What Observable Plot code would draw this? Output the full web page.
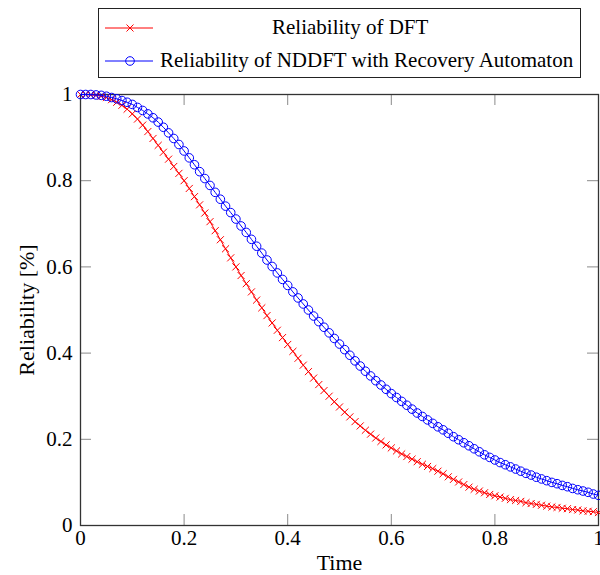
<!DOCTYPE html>
<html>
<head>
<meta charset="utf-8">
<script src="https://cdn.jsdelivr.net/npm/d3@7"></script>
<script src="https://cdn.jsdelivr.net/npm/@observablehq/plot@0.6"></script>
<style>
  html, body { margin: 0; padding: 0; background: white; }
  #wrap { position: relative; width: 600px; height: 575px; font-family: "Liberation Serif", "Times New Roman", serif; }
  #legend { position: absolute; left: 98px; top: 8px; width: 481px; height: 68px; border: 1px solid #222; background: white; }
  #legend .row { position: absolute; left: 0; height: 30px; width: 100%; }
  #legend svg { position: absolute; left: 6px; top: 0; }
  #legend .lbl { position: absolute; top: 2px; font-size: 21px; line-height: 24px; white-space: nowrap; color: black; font-family: "Liberation Serif", "Times New Roman", serif; }
</style>
</head>
<body>
<div id="wrap">
  <div id="chart"></div>
  <div id="legend"></div>
</div>
<script>
// ---- data ----
const seriesNames = ["Reliability of DFT", "Reliability of NDDFT with Recovery Automaton"];
const time = d3.range(0, 101).map(i => i / 100);
const dftValues = [
  1.000, 1.000, 0.999, 0.998, 0.996, 0.993, 0.988, 0.982, 0.975, 0.966,
  0.955, 0.943, 0.929, 0.914, 0.898, 0.882, 0.866, 0.850, 0.833, 0.817,
  0.800, 0.782, 0.763, 0.744, 0.725, 0.705, 0.684, 0.663, 0.642, 0.621,
  0.600, 0.580, 0.561, 0.542, 0.523, 0.505, 0.487, 0.470, 0.453, 0.436,
  0.420, 0.404, 0.388, 0.372, 0.357, 0.342, 0.327, 0.313, 0.300, 0.287,
  0.275, 0.263, 0.252, 0.241, 0.231, 0.221, 0.212, 0.203, 0.195, 0.187,
  0.180, 0.173, 0.166, 0.160, 0.154, 0.148, 0.142, 0.137, 0.132, 0.126,
  0.120, 0.113, 0.107, 0.101, 0.095, 0.089, 0.084, 0.080, 0.076, 0.072,
  0.069, 0.066, 0.063, 0.060, 0.058, 0.056, 0.053, 0.051, 0.049, 0.047,
  0.045, 0.043, 0.042, 0.040, 0.039, 0.037, 0.036, 0.034, 0.033, 0.032,
  0.030
];
const nddftValues = [
  1.000, 1.000, 1.000, 0.999, 0.998, 0.996, 0.993, 0.990, 0.986, 0.982,
  0.977, 0.970, 0.963, 0.955, 0.946, 0.936, 0.924, 0.911, 0.898, 0.884,
  0.869, 0.853, 0.837, 0.821, 0.805, 0.789, 0.773, 0.757, 0.741, 0.726,
  0.711, 0.695, 0.680, 0.664, 0.648, 0.632, 0.616, 0.601, 0.586, 0.571,
  0.557, 0.542, 0.528, 0.514, 0.500, 0.486, 0.473, 0.460, 0.447, 0.434,
  0.421, 0.408, 0.395, 0.382, 0.370, 0.358, 0.347, 0.336, 0.326, 0.316,
  0.306, 0.297, 0.288, 0.279, 0.270, 0.261, 0.253, 0.245, 0.237, 0.229,
  0.222, 0.214, 0.206, 0.199, 0.192, 0.185, 0.178, 0.171, 0.164, 0.158,
  0.152, 0.146, 0.141, 0.136, 0.131, 0.126, 0.121, 0.117, 0.112, 0.108,
  0.104, 0.100, 0.097, 0.093, 0.090, 0.086, 0.083, 0.080, 0.077, 0.073,
  0.070
];
const xTicks = [0, 0.2, 0.4, 0.6, 0.8, 1];
const yTicks = [0, 0.2, 0.4, 0.6, 0.8, 1];
const xLabel = "Time";
const yLabel = "Reliability [%]";

// ---- build ----
const dft = time.map((t, i) => ({t, v: dftValues[i]}));
const nddft = time.map((t, i) => ({t, v: nddftValues[i]}));

const W = 600, H = 575, mL = 80, mR = 2, mT = 94, mB = 50;
const plotW = W - mL - mR, plotH = H - mT - mB;
const tickLen = 11;
const tickColor = "#8a8a8a";
const serif = "'Liberation Serif', 'Times New Roman', serif";

const chart = Plot.plot({
  width: W, height: H,
  marginLeft: mL, marginRight: mR, marginTop: mT, marginBottom: mB,
  style: {fontFamily: serif, fontSize: "21px", color: "black", background: "white", overflow: "visible"},
  x: {domain: [0, 1]},
  y: {domain: [0, 1]},
  marks: [
    // inward ticks on all four sides
    Plot.ruleX(xTicks, {x: d => d, insetTop: plotH - tickLen, stroke: tickColor, strokeWidth: 1}),
    Plot.ruleX(xTicks, {x: d => d, insetBottom: plotH - tickLen, stroke: tickColor, strokeWidth: 1}),
    Plot.ruleY(yTicks, {y: d => d, insetRight: plotW - tickLen, stroke: tickColor, strokeWidth: 1}),
    Plot.ruleY(yTicks, {y: d => d, insetLeft: plotW - tickLen, stroke: tickColor, strokeWidth: 1}),
    Plot.frame({stroke: "#333", strokeWidth: 1.3}),
    Plot.axisX({ticks: xTicks, tickSize: 0, tickPadding: 5, tickFormat: d => String(d), label: null, fontFamily: serif, fontSize: 21}),
    Plot.axisX({ticks: [], tickSize: 0, label: xLabel, labelAnchor: "center", labelOffset: 44, labelArrow: "none", fontFamily: serif, fontSize: 22}),
    Plot.axisY({ticks: yTicks, tickSize: 0, tickPadding: 8, tickFormat: d => String(d), label: null, fontFamily: serif, fontSize: 21}),
    Plot.axisY({ticks: [], tickSize: 0, label: yLabel, labelAnchor: "center", labelOffset: 62, labelArrow: "none", fontFamily: serif, fontSize: 22}),
    Plot.line(dft, {x: "t", y: "v", stroke: "#ff0000", strokeWidth: 1}),
    Plot.dot(dft, {x: "t", y: "v", symbol: "times", r: 3.3, stroke: "#ff0000", strokeWidth: 1}),
    Plot.line(nddft, {x: "t", y: "v", stroke: "#0000ff", strokeWidth: 1}),
    Plot.dot(nddft, {x: "t", y: "v", symbol: "circle", r: 4.3, stroke: "#0000ff", fill: "none", strokeWidth: 1})
  ]
});
document.getElementById("chart").appendChild(chart);

// ---- legend ----
const legend = document.getElementById("legend");
const legendItems = [
  {name: seriesNames[0], color: "#ff0000", symbol: "x", top: 4, textLeft: 173},
  {name: seriesNames[1], color: "#0000ff", symbol: "o", top: 37, textLeft: 61}
];
for (const it of legendItems) {
  const row = document.createElement("div");
  row.className = "row";
  row.style.top = it.top + "px";
  const marker = it.symbol === "x"
    ? `<path d="M21.5,11.5 L28.5,18.5 M28.5,11.5 L21.5,18.5" stroke="${it.color}" stroke-width="1" fill="none"/>`
    : `<circle cx="25" cy="15" r="4.3" stroke="${it.color}" stroke-width="1" fill="none"/>`;
  row.innerHTML = `<svg width="50" height="30"><line x1="0" y1="15" x2="48" y2="15" stroke="${it.color}" stroke-width="1"/>${marker}</svg><span class="lbl" style="left:${it.textLeft}px">${it.name}</span>`;
  legend.appendChild(row);
}
</script>
</body>
</html>
